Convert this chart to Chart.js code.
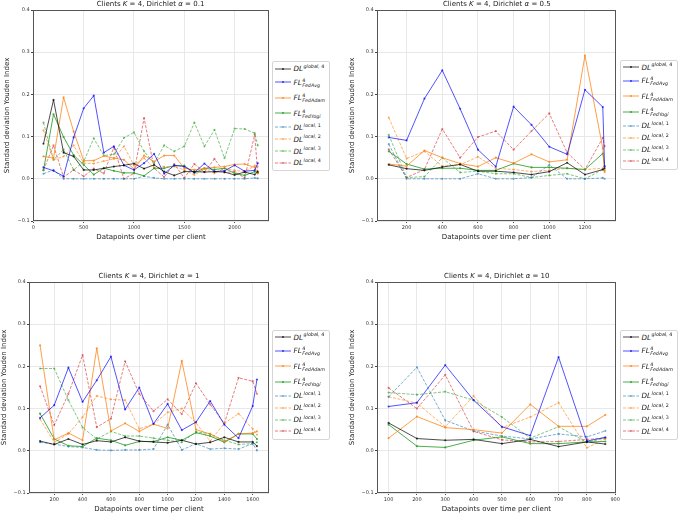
<!DOCTYPE html>
<html>
<head>
<meta charset="utf-8">
<script src="https://cdn.jsdelivr.net/npm/chart.js@4.4.0/dist/chart.umd.min.js"></script>
<style>
body { margin:0; width:678px; height:514px; overflow:hidden; background:#fff; position:relative; font-family:"DejaVu Sans", sans-serif; }
canvas { position:absolute; }
.ttl { position:absolute; font-size:7px; line-height:1; color:#222; white-space:nowrap; transform:translate(-50%,-50%); }
.leg { position:absolute; width:58px; height:110px; border:1px solid #d6d6d6; border-radius:2px; background:#fff; box-sizing:border-box; }
.row { position:absolute; left:0; height:0; }
.row svg { position:absolute; left:2px; top:-3px; }
.lab { position:absolute; left:21px; top:-4.5px; font-size:7.2px; line-height:9px; font-style:italic; color:#222; white-space:nowrap; }
.sup { display:inline-block; font-size:4.8px; position:relative; top:-3.2px; margin-left:0.5px; }
.ss { display:inline-block; vertical-align:middle; font-size:4.8px; line-height:5px; margin-left:0.5px; }
.ss span { display:block; }
.up { font-style:normal; }
</style>
</head>
<body>
<script>
// panel 1: alpha = 0.1
const p1X = [100,200,300,400,500,600,700,800,900,1000,1100,1200,1300,1400,1500,1600,1700,1800,1900,2000,2100,2200,2230];
const p1Global = [0.083,0.187,0.062,0.053,0.021,0.021,0.025,0.029,0.032,0.036,0.024,0.033,0.017,0.008,0.017,0.017,0.016,0.017,0.016,0.009,0.016,0.010,0.017];
const p1FedAvg = [0.027,0.019,0.006,0.098,0.167,0.197,0.062,0.077,0.032,0.021,0.037,0.059,0.012,0.032,0.029,0.015,0.036,0.017,0.019,0.032,0.018,0.020,0.037];
const p1FedAdam = [0.053,0.049,0.193,0.112,0.043,0.043,0.054,0.049,0.045,0.023,0.055,0.041,0.055,0.055,0.025,0.021,0.025,0.027,0.029,0.034,0.035,0.027,0.013];
const p1FedYogi = [0.020,0.153,0.099,0.056,0.033,0.010,0.025,0.019,0.014,0.014,0.007,0.025,0.025,0.031,0.031,0.014,0.025,0.022,0.025,0.013,0.008,0.017,0.015];
const p1Local1 = [0.012,0.021,0,0,0,0,0,0,0,0,0.006,0.002,0,0,0,0,0,0,0,0,0,0.002,0.001];
const p1Local2 = [0.115,0.045,0.053,0.079,0.037,0.036,0.042,0.047,0.077,0.032,0.049,0.025,0.029,0.029,0.021,0.009,0.023,0.013,0.025,0.020,0.017,0.031,0.029];
const p1Local3 = [0.133,0.045,0.069,0.021,0.041,0.096,0.055,0.058,0.097,0.110,0.065,0.037,0.079,0.065,0.077,0.133,0.077,0.116,0.049,0.119,0.118,0.108,0.079];
const p1Local4 = [0.021,0.079,0.004,0.021,0.006,0.024,0.013,0.074,0.000,0.013,0.144,0.025,0.004,0.035,0.002,0.035,0.016,0.047,0.015,0.017,0.002,0.105,0.013];

// panel 2: alpha = 0.5
const p2X = [100,200,300,400,500,600,700,800,900,1000,1100,1200,1300,1310];
const p2Global = [0.033,0.024,0.020,0.028,0.034,0.018,0.018,0.015,0.010,0.017,0.038,0.010,0.022,0.025];
const p2FedAvg = [0.098,0.091,0.190,0.257,0.166,0.069,0.029,0.171,0.128,0.076,0.058,0.211,0.170,0.029];
const p2FedAdam = [0.035,0.030,0.067,0.050,0.036,0.029,0.050,0.037,0.058,0.040,0.045,0.292,0.072,0.016];
const p2FedYogi = [0.065,0.035,0.023,0.025,0.025,0.020,0.020,0.036,0.027,0.027,0.025,0.022,0.060,0.030];
const p2Local1 = [0.082,0,0,0,0,0.012,0,0,0.003,0.033,0,0,0.002,0];
const p2Local2 = [0.145,0.048,0.065,0.030,0.033,0.052,0.025,0.022,0.017,0.020,0.025,0.022,0.025,0.020];
const p2Local3 = [0.104,0.003,0.005,0.050,0.015,0.018,0.012,0.012,0.003,0.008,0.012,0.000,0.022,0.020];
const p2Local4 = [0.070,0.003,0.022,0.118,0.050,0.099,0.113,0.069,0.113,0.155,0.062,0.022,0.097,0.077];

// panel 3: alpha = 1
const p3X = [100,200,300,400,500,600,700,800,900,1000,1100,1200,1300,1400,1500,1600,1630];
const p3Global = [0.023,0.015,0.028,0.015,0.024,0.021,0.032,0.023,0.021,0.019,0.025,0.016,0.020,0.032,0.021,0.021,0.011];
const p3FedAvg = [0.078,0.108,0.197,0.116,0.167,0.223,0.098,0.150,0.064,0.111,0.049,0.068,0.118,0.062,0.030,0.106,0.169];
const p3FedAdam = [0.250,0.026,0.042,0.025,0.243,0.047,0.065,0.046,0.063,0.053,0.213,0.050,0.040,0.022,0.040,0.042,0.046];
const p3FedYogi = [0.088,0.028,0.012,0.010,0.030,0.025,0.013,0.022,0.022,0.032,0.025,0.043,0.035,0.020,0.040,0.040,0.028];
const p3Local1 = [0.020,0.016,0.010,0.008,0.002,0.001,0.002,0.002,0.004,0.062,0.002,0.017,0.004,0.006,0.004,0.017,0.001];
const p3Local2 = [0.075,0.020,0.040,0.080,0.130,0.122,0.120,0.052,0.063,0.091,0.100,0.066,0.023,0.065,0.088,0.052,0.038];
const p3Local3 = [0.195,0.195,0.120,0.055,0.028,0.046,0.035,0.035,0.030,0.025,0.020,0.045,0.040,0.025,0.015,0.017,0.020];
const p3Local4 = [0.153,0.061,0.135,0.227,0.056,0.076,0.212,0.135,0.094,0.122,0.087,0.160,0.110,0.065,0.173,0.165,0.135];

// panel 4: alpha = 10
const p4X = [100,200,300,400,500,600,700,800,865];
const p4Global = [0.066,0.029,0.025,0.027,0.017,0.027,0.010,0.021,0.016];
const p4FedAvg = [0.105,0.114,0.203,0.120,0.057,0.036,0.222,0.023,0.032];
const p4FedAdam = [0.030,0.081,0.055,0.050,0.042,0.110,0.058,0.058,0.085];
const p4FedYogi = [0.062,0.011,0.008,0.025,0.033,0.017,0.017,0.021,0.022];
const p4Local1 = [0.128,0.198,0.072,0.047,0.035,0.028,0.040,0.033,0.047];
const p4Local2 = [0.128,0.113,0.057,0.130,0.055,0.080,0.114,0.007,0.028];
const p4Local3 = [0.138,0.133,0.140,0.120,0.080,0.030,0.057,0.020,0.030];
const p4Local4 = [0.149,0.100,0.180,0.046,0.026,0.021,0.022,0.027,0.030];

// ticks
const yTicks = [-0.1, 0.0, 0.1, 0.2, 0.3, 0.4];
const p1XTicks = [0, 500, 1000, 1500, 2000];
const p2XTicks = [200, 400, 600, 800, 1000, 1200];
const p3XTicks = [200, 400, 600, 800, 1000, 1200, 1400, 1600];
const p4XTicks = [100, 200, 300, 400, 500, 600, 700, 800, 900];

const titles = ['0.1', '0.5', '1', '10'];
const xLabel = 'Datapoints over time per client';
const yLabel = 'Standard deviation Youden Index';

// legend names (mathtext-like)
const seriesNames = [
  'DL<span class="sup">global, <span class="up">4</span></span>',
  'FL<span class="ss"><span class="up">4</span><span>FedAvg</span></span>',
  'FL<span class="ss"><span class="up">4</span><span>FedAdam</span></span>',
  'FL<span class="ss"><span class="up">4</span><span>FedYogi</span></span>',
  'DL<span class="sup">local, <span class="up">1</span></span>',
  'DL<span class="sup">local, <span class="up">2</span></span>',
  'DL<span class="sup">local, <span class="up">3</span></span>',
  'DL<span class="sup">local, <span class="up">4</span></span>'
];
const seriesColors = [
  'rgba(0,0,0,0.7)', 'rgba(0,0,255,0.68)', 'rgba(255,127,14,0.75)', 'rgba(44,160,44,0.85)',
  'rgba(31,119,180,0.6)', 'rgba(255,127,14,0.6)', 'rgba(44,160,44,0.6)', 'rgba(214,39,40,0.6)'
];
const seriesDashed = [false, false, false, false, true, true, true, true];
const legendRows = [7.5, 21.2, 36.8, 52.4, 66.2, 78.1, 90, 101.9];

const panels = [
  { left:0, top:2, yW:33, min:-4, max:2342, xTicks:p1XTicks, yPad:3.1, x:p1X,
    series:[p1Global,p1FedAvg,p1FedAdam,p1FedYogi,p1Local1,p1Local2,p1Local3,p1Local4],
    title:[150.5, 4], legend:[271.5, 61] },
  { left:347, top:2, yW:30, min:34, max:1374, xTicks:p2XTicks, yPad:0.5, x:p2X,
    series:[p2Global,p2FedAvg,p2FedAdam,p2FedYogi,p2Local1,p2Local2,p2Local3,p2Local4],
    title:[496.8, 4], legend:[619.5, 59.5] },
  { left:0, top:274, yW:29, min:22, max:1715, xTicks:p3XTicks, yPad:0, x:p3X,
    series:[p3Global,p3FedAvg,p3FedAdam,p3FedYogi,p3Local1,p3Local2,p3Local3,p3Local4],
    title:[149, 276], legend:[271.5, 329.5] },
  { left:347, top:274, yW:30, min:59, max:902, xTicks:p4XTicks, yPad:1.1, x:p4X,
    series:[p4Global,p4FedAvg,p4FedAdam,p4FedYogi,p4Local1,p4Local2,p4Local3,p4Local4],
    title:[496.8, 276], legend:[619.5, 329.5] }
];

// frame around plot area like matplotlib spines
const framePlugin = {
  id: 'frame',
  afterDraw(chart) {
    const { ctx, chartArea: a } = chart;
    ctx.save();
    ctx.strokeStyle = '#555';
    ctx.lineWidth = 1;
    ctx.strokeRect(Math.round(a.left) + 0.5, Math.round(a.top) + 0.5,
      Math.round(a.right - a.left) - 1, Math.round(a.bottom - a.top) - 1);
    ctx.restore();
  }
};

const tickFont = { family: 'DejaVu Sans', size: 5 };
const labelFont = { family: 'DejaVu Sans', size: 7 };

panels.forEach((p, idx) => {
  const cv = document.createElement('canvas');
  cv.width = 275; cv.height = 240;
  cv.style.left = p.left + 'px';
  cv.style.top = p.top + 'px';
  cv.style.width = '275px'; cv.style.height = '240px';
  document.body.appendChild(cv);

  const datasets = p.series.map((ys, i) => ({
    label: 'series' + i,
    data: p.x.map((x, j) => ({ x: x, y: ys[j] })),
    borderColor: seriesColors[i],
    backgroundColor: seriesColors[i],
    borderWidth: 1,
    borderDash: seriesDashed[i] ? [3, 1.5] : [],
    pointRadius: 1.1,
    pointBorderWidth: 0,
    tension: 0,
    fill: false
  }));

  new Chart(cv, {
    type: 'line',
    data: { datasets: datasets },
    plugins: [framePlugin],
    options: {
      responsive: false,
      animation: false,
      devicePixelRatio: 1,
      layout: { padding: { top: 8, right: 6, bottom: 0, left: 0 } },
      plugins: { legend: { display: false }, tooltip: { enabled: false }, title: { display: false } },
      scales: {
        x: {
          type: 'linear',
          min: p.min, max: p.max,
          afterBuildTicks: s => { s.ticks = p.xTicks.map(v => ({ value: v })); },
          afterFit: s => { s.height = 21; },
          ticks: { font: tickFont, color: '#333', padding: 2, maxRotation: 0, autoSkip: false,
            callback: v => String(v) },
          grid: { color: '#e8e8e8', tickColor: '#444', tickLength: 2 },
          border: { display: false },
          title: { display: true, text: xLabel, font: labelFont, color: '#222', padding: { top: 0, bottom: 0.5 } }
        },
        y: {
          type: 'linear',
          min: -0.1, max: 0.4,
          afterBuildTicks: s => { s.ticks = yTicks.map(v => ({ value: v })); },
          afterFit: s => { s.width = p.yW; },
          ticks: { font: tickFont, color: '#333', padding: 1.3,
            callback: v => (v < 0 ? '\u2212' : '') + Math.abs(v).toFixed(1) },
          grid: { color: '#e8e8e8', tickColor: '#444', tickLength: 2 },
          border: { display: false },
          title: { display: true, text: yLabel, font: labelFont, color: '#222', padding: { top: p.yPad, bottom: 0 } }
        }
      }
    }
  });

  // title
  const t = document.createElement('div');
  t.className = 'ttl';
  t.style.left = p.title[0] + 'px';
  t.style.top = p.title[1] + 'px';
  t.innerHTML = 'Clients <i>K</i> = 4, Dirichlet <i>\u03b1</i> = ' + titles[idx];
  document.body.appendChild(t);

  // legend
  const leg = document.createElement('div');
  leg.className = 'leg';
  leg.style.left = p.legend[0] + 'px';
  leg.style.top = p.legend[1] + 'px';
  seriesNames.forEach((name, i) => {
    const row = document.createElement('div');
    row.className = 'row';
    row.style.top = (legendRows[i] - 1) + 'px';
    const dash = seriesDashed[i] ? 'stroke-dasharray="3 1.5"' : '';
    row.innerHTML =
      '<svg width="16" height="6"><line x1="0" y1="3" x2="16" y2="3" stroke="' + seriesColors[i] +
      '" stroke-width="1" ' + dash + '/><circle cx="8" cy="3" r="1.1" fill="' + seriesColors[i] + '"/></svg>' +
      '<span class="lab">' + name + '</span>';
    leg.appendChild(row);
  });
  document.body.appendChild(leg);
});
</script>
</body>
</html>
